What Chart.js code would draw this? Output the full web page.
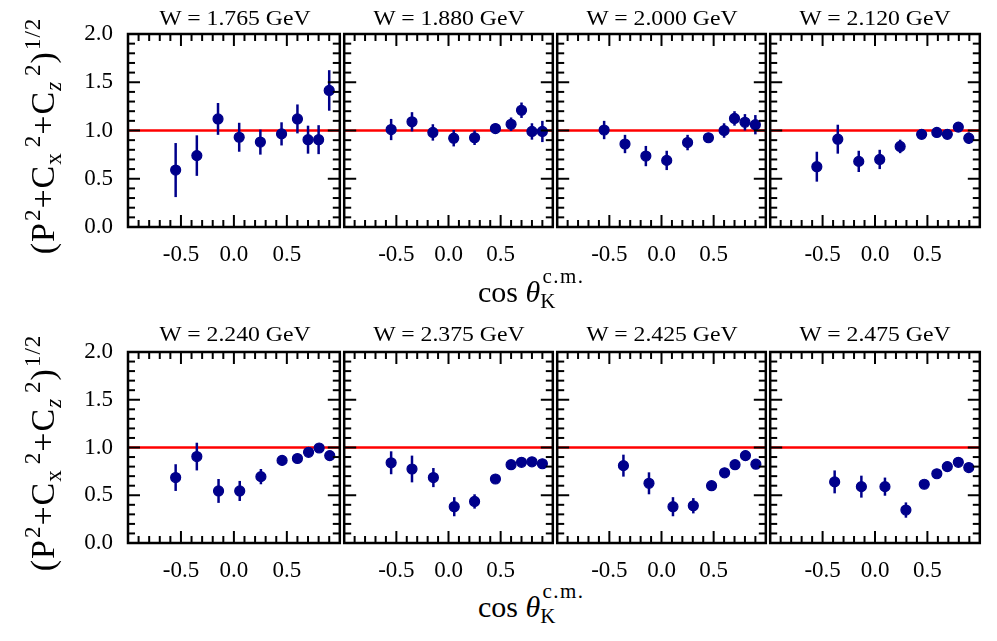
<!DOCTYPE html>
<html>
<head>
<meta charset="utf-8">
<script src="https://cdn.jsdelivr.net/npm/chart.js@4.4.1/dist/chart.umd.min.js"></script>
<style>
    html, body { margin: 0; padding: 0; background: #fff; }
    #fig { position: relative; width: 997px; height: 641px; overflow: hidden;
           font-family: 'Liberation Serif', 'Times New Roman', serif; color: #000; }
    #fig canvas { position: absolute; }
    .title { position: absolute; font-size: 21px; line-height: 21px; white-space: nowrap;
             transform: translateX(-50%) scaleX(1.13); }
    .ylab { position: absolute; font-size: 34px; line-height: 34px; white-space: nowrap;
            letter-spacing: 1px; transform: translate(-50%, -50%) rotate(-90deg); }
    .ylab .sup { position: relative; top: -14px; font-size: 23px; margin-left: 1px; }
    .ylab .sub { position: relative; top: 7px; font-size: 23px; margin-right: 4px; }
    .xlab { position: absolute; font-size: 30px; line-height: 30px; white-space: nowrap; }
    .xlab i { font-style: italic; }
    .xlab .sub { position: relative; top: 6px; font-size: 21px; }
    .xlab .sup { position: relative; top: -19px; font-size: 21px; margin-left: -13px; letter-spacing: 1.5px; }
</style>
</head>
<body>
<div id="fig"></div>
<script>
// W bins shown in the 8 panels
const wLabels = ['W = 1.765 GeV', 'W = 1.880 GeV', 'W = 2.000 GeV', 'W = 2.120 GeV',
                 'W = 2.240 GeV', 'W = 2.375 GeV', 'W = 2.425 GeV', 'W = 2.475 GeV'];

// cos theta_K (c.m.) for each panel
const cosTheta = [
    [-0.55, -0.35, -0.15, 0.05, 0.25, 0.45, 0.60, 0.70, 0.80, 0.90],
    [-0.55, -0.35, -0.15, 0.05, 0.25, 0.45, 0.60, 0.70, 0.80, 0.90],
    [-0.55, -0.35, -0.15, 0.05, 0.25, 0.45, 0.60, 0.70, 0.80, 0.90],
    [-0.555, -0.355, -0.155, 0.045, 0.24, 0.445, 0.59, 0.69, 0.795, 0.895],
    [-0.55, -0.35, -0.145, 0.055, 0.255, 0.455, 0.60, 0.705, 0.805, 0.905],
    [-0.55, -0.35, -0.145, 0.055, 0.25, 0.45, 0.60, 0.70, 0.80, 0.90],
    [-0.365, -0.12, 0.11, 0.305, 0.48, 0.605, 0.705, 0.805, 0.905],
    [-0.385, -0.13, 0.095, 0.295, 0.47, 0.59, 0.69, 0.795, 0.895]
];

// (P^2 + Cx^2 + Cz^2)^1/2
const polMag = [
    [0.59, 0.74, 1.12, 0.93, 0.88, 0.965, 1.12, 0.905, 0.905, 1.415],
    [1.01, 1.09, 0.98, 0.92, 0.925, 1.02, 1.065, 1.21, 0.99, 0.99],
    [1.005, 0.86, 0.735, 0.69, 0.875, 0.925, 1.0, 1.125, 1.085, 1.06],
    [0.625, 0.91, 0.68, 0.70, 0.835, 0.96, 0.98, 0.96, 1.035, 0.92],
    [0.685, 0.905, 0.545, 0.545, 0.695, 0.865, 0.885, 0.95, 0.995, 0.915],
    [0.84, 0.775, 0.685, 0.38, 0.435, 0.67, 0.82, 0.845, 0.85, 0.83],
    [0.81, 0.625, 0.38, 0.39, 0.60, 0.735, 0.82, 0.915, 0.825],
    [0.64, 0.59, 0.59, 0.345, 0.615, 0.725, 0.80, 0.845, 0.79]
];

const polErr = [
    [0.28, 0.21, 0.165, 0.15, 0.13, 0.12, 0.15, 0.145, 0.15, 0.21],
    [0.11, 0.10, 0.085, 0.085, 0.075, 0.05, 0.07, 0.08, 0.085, 0.11],
    [0.095, 0.095, 0.105, 0.10, 0.08, 0.05, 0.075, 0.075, 0.085, 0.10],
    [0.155, 0.15, 0.11, 0.10, 0.07, 0.045, 0.05, 0.045, 0.045, 0.06],
    [0.14, 0.145, 0.125, 0.105, 0.08, 0.05, 0.045, 0.045, 0.04, 0.045],
    [0.12, 0.14, 0.10, 0.10, 0.075, 0.045, 0.045, 0.045, 0.045, 0.045],
    [0.115, 0.115, 0.10, 0.08, 0.045, 0.045, 0.045, 0.045, 0.045],
    [0.12, 0.115, 0.095, 0.08, 0.045, 0.045, 0.045, 0.045, 0.045]
];

const refLevel = 1.0;              // red line
const xRange = [-1, 1];
const yRange = [0, 2];
const xTicks = [-0.5, 0.0, 0.5];
const yTicks = [0.0, 0.5, 1.0, 1.5, 2.0];

const DOT = '#00008b';
const FONT = "'Liberation Serif', 'Times New Roman', serif";

// panel frames on the page
const colLeft = [128, 342, 555, 768];
const colWidth = [214, 213, 213, 214];
const rowTop = [34, 352];
const rowHeight = [193, 191];
const PAD = 4, PAD_TOP = 14, X_AXIS_H = 34, Y_AXIS_W = 60;

// error bars under the markers, inward ticks + frame on top
const panelDecor = {
    id: 'panelDecor',
    beforeDatasetDraw(chart, args) {
        if (args.index !== 0) return;
        const ctx = chart.ctx;
        const xs = chart.scales.x, ys = chart.scales.y;
        const ds = chart.data.datasets[0];
        ctx.save();
        ctx.strokeStyle = DOT;
        ctx.lineWidth = 2.5;
        ds.data.forEach((p, i) => {
            const e = ds.errors[i];
            const px = xs.getPixelForValue(p.x);
            ctx.beginPath();
            ctx.moveTo(px, ys.getPixelForValue(p.y - e));
            ctx.lineTo(px, ys.getPixelForValue(p.y + e));
            ctx.stroke();
        });
        ctx.restore();
    },
    afterDraw(chart) {
        const ctx = chart.ctx;
        const a = chart.chartArea;
        const xs = chart.scales.x, ys = chart.scales.y;
        const seg = (x1, y1, x2, y2) => { ctx.beginPath(); ctx.moveTo(x1, y1); ctx.lineTo(x2, y2); ctx.stroke(); };
        ctx.save();
        ctx.strokeStyle = '#000';
        ctx.lineWidth = 2;
        for (let i = -9; i <= 9; i++) {
            const px = xs.getPixelForValue(i / 10);
            const len = i % 5 === 0 ? 12 : 7;
            seg(px, a.bottom, px, a.bottom - len);
            seg(px, a.top, px, a.top + len);
        }
        for (let j = 1; j <= 19; j++) {
            const py = ys.getPixelForValue(j / 10);
            const len = j % 5 === 0 ? 12 : 7;
            seg(a.left, py, a.left + len, py);
            seg(a.right, py, a.right - len, py);
        }
        ctx.lineWidth = 2.5;
        ctx.strokeRect(a.left, a.top, a.right - a.left, a.bottom - a.top);
        ctx.restore();
    }
};

const fig = document.getElementById('fig');

function makePanel(k) {
    const row = Math.floor(k / 4), col = k % 4;
    const showY = col === 0;
    const padL = PAD + (showY ? Y_AXIS_W : 0);
    const canvas = document.createElement('canvas');
    canvas.width = colWidth[col] + padL + PAD;
    canvas.height = rowHeight[row] + PAD_TOP + X_AXIS_H;
    canvas.style.left = (colLeft[col] - padL) + 'px';
    canvas.style.top = (rowTop[row] - PAD_TOP) + 'px';
    fig.appendChild(canvas);

    const title = document.createElement('div');
    title.className = 'title';
    title.textContent = wLabels[k];
    title.style.left = (colLeft[col] + colWidth[col] / 2) + 'px';
    title.style.top = (row === 0 ? 8 : 324) + 'px';
    fig.appendChild(title);

    const points = cosTheta[k].map((x, i) => ({ x: x, y: polMag[k][i] }));

    new Chart(canvas, {
        type: 'scatter',
        data: {
            datasets: [
                {
                    data: points,
                    errors: polErr[k],
                    backgroundColor: DOT,
                    borderColor: DOT,
                    pointRadius: 5,
                    pointBorderWidth: 1.2
                },
                {
                    type: 'line',
                    data: [{ x: xRange[0], y: refLevel }, { x: xRange[1], y: refLevel }],
                    borderColor: '#ff0000',
                    borderWidth: 2.5,
                    pointRadius: 0
                }
            ]
        },
        options: {
            responsive: false,
            animation: false,
            events: [],
            layout: { padding: { left: PAD, right: PAD, top: PAD_TOP, bottom: 0 } },
            plugins: { legend: { display: false }, tooltip: { enabled: false } },
            scales: {
                x: {
                    type: 'linear',
                    min: xRange[0], max: xRange[1],
                    afterBuildTicks: s => { s.ticks = xTicks.map(v => ({ value: v })); },
                    afterFit: s => { s.height = X_AXIS_H; s.paddingLeft = 0; s.paddingRight = 0; },
                    grid: { display: false, drawTicks: false },
                    border: { display: false },
                    ticks: {
                        padding: 14,
                        color: '#000',
                        maxRotation: 0,
                        autoSkip: false,
                        font: { family: FONT, size: 23 },
                        callback: v => v.toFixed(1)
                    }
                },
                y: {
                    type: 'linear',
                    display: showY,
                    min: yRange[0], max: yRange[1],
                    afterBuildTicks: s => { s.ticks = yTicks.map(v => ({ value: v })); },
                    afterFit: s => {
                        s.width = showY ? Y_AXIS_W : 0;
                        s.paddingTop = 0;
                        s.paddingBottom = 0;
                    },
                    grid: { display: false, drawTicks: false },
                    border: { display: false },
                    ticks: {
                        padding: 15,
                        color: '#000',
                        font: { family: FONT, size: 23 },
                        callback: v => v.toFixed(1)
                    }
                }
            }
        },
        plugins: [panelDecor]
    });
}

for (let k = 0; k < 8; k++) makePanel(k);

// axis titles, one per row
[0, 1].forEach(row => {
    const yl = document.createElement('div');
    yl.className = 'ylab';
    yl.innerHTML = '(P<span class="sup">2</span>+C<span class="sub">x</span><span class="sup">2</span>+C<span class="sub"><i>z</i></span><span class="sup">2</span>)<span class="sup">1/2</span>';
    yl.style.left = '45px';
    yl.style.top = (rowTop[row] + rowHeight[row] / 2 + 5) + 'px';
    fig.appendChild(yl);

    const xl = document.createElement('div');
    xl.className = 'xlab';
    xl.innerHTML = 'cos <i>&theta;</i><span class="sub">K</span><span class="sup">c.m.</span>';
    xl.style.left = '478px';
    xl.style.top = (row === 0 ? 277 : 592) + 'px';
    fig.appendChild(xl);
});
</script>
</body>
</html>
